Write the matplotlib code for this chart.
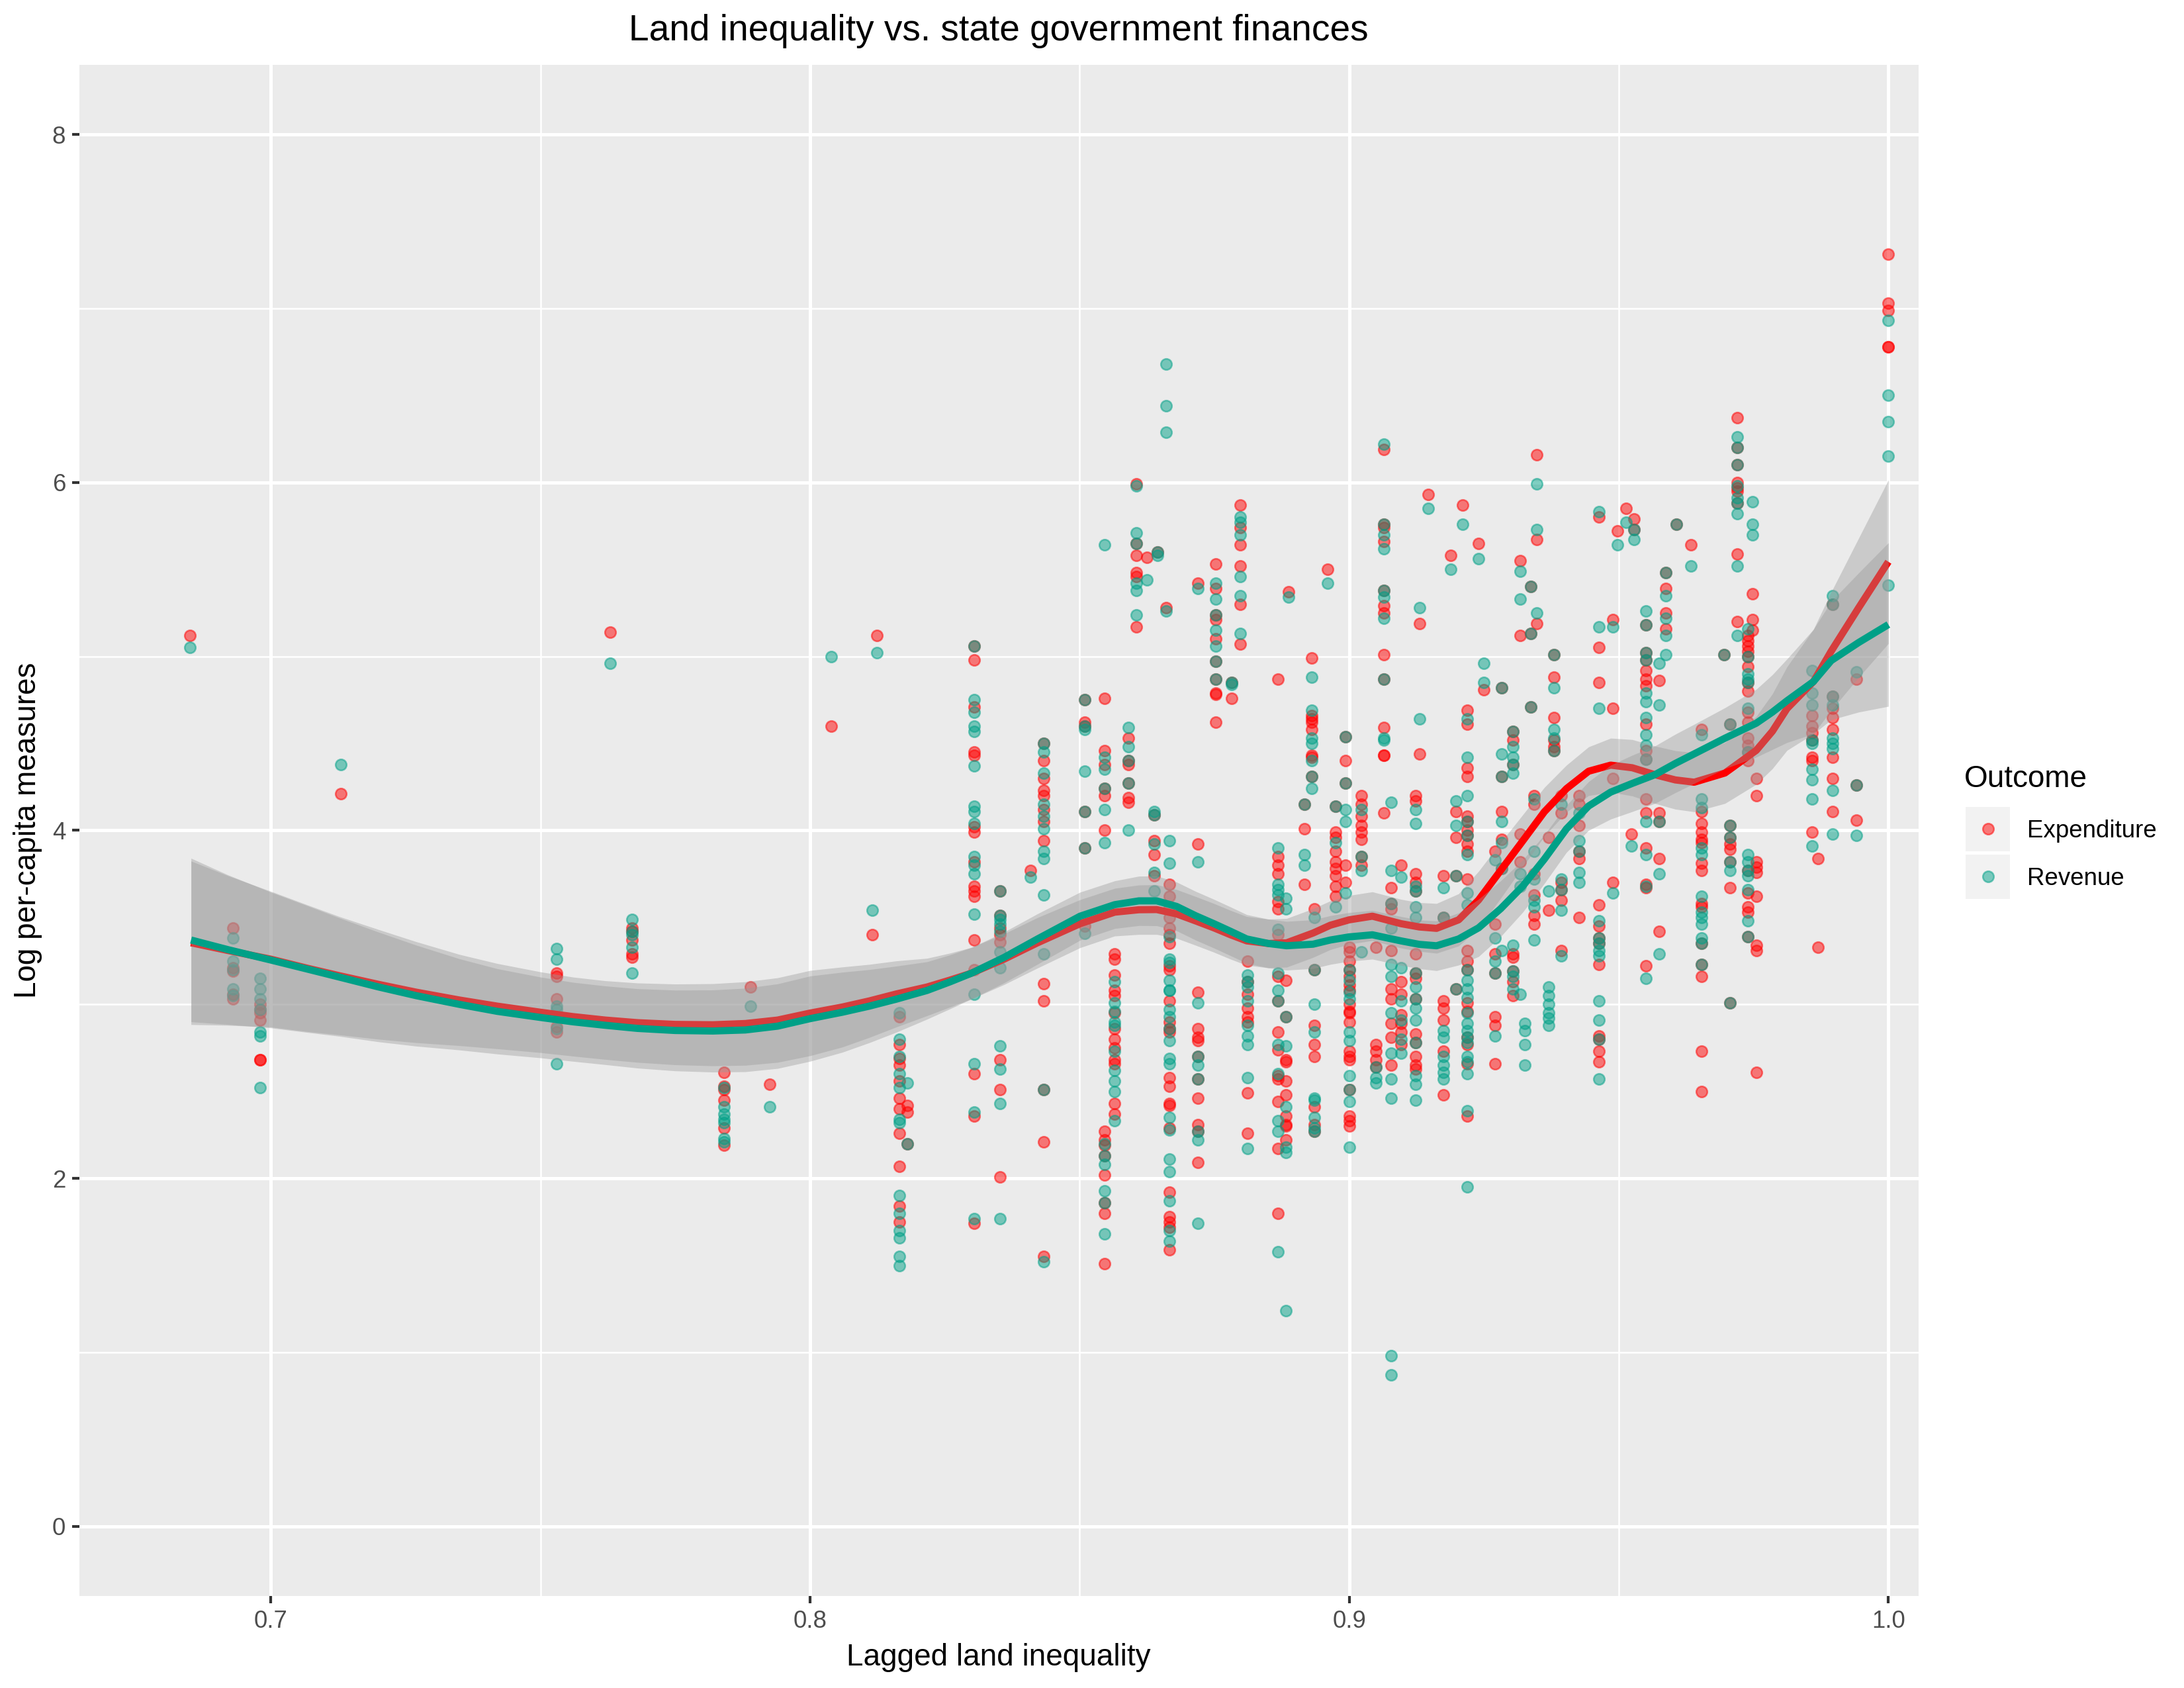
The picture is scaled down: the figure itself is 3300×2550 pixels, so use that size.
import matplotlib
matplotlib.use("Agg")
import matplotlib.pyplot as plt
from matplotlib.patches import Rectangle
from matplotlib.lines import Line2D
from matplotlib.ticker import MultipleLocator, FixedLocator

plt.rcParams['font.family'] = ['Liberation Sans', 'DejaVu Sans']

# lagged land inequality value of each column of points
gini = [0.685, 0.693, 0.698, 0.713, 0.753, 0.763, 0.767, 0.784, 0.789, 0.7925,
        0.804, 0.8115, 0.8124, 0.8166, 0.818, 0.8305, 0.8352, 0.8409, 0.8434, 0.851,
        0.8546, 0.8565, 0.8591, 0.8605, 0.8625, 0.8638, 0.8645, 0.866, 0.8667, 0.872,
        0.8753, 0.8782, 0.8798, 0.8812, 0.8868, 0.8883, 0.8888, 0.8917, 0.893, 0.8935,
        0.896, 0.8975, 0.8993, 0.900, 0.9023, 0.905, 0.9064, 0.9078, 0.9096, 0.9123,
        0.913, 0.9146, 0.9175, 0.9188, 0.9198, 0.921, 0.9219, 0.924, 0.925, 0.927,
        0.9283, 0.9304, 0.9317, 0.9326, 0.9337, 0.9343, 0.9348, 0.937, 0.938, 0.9393,
        0.9426, 0.9463, 0.9489, 0.9497, 0.9513, 0.9524, 0.9528, 0.955, 0.9575, 0.9587,
        0.9607, 0.9634, 0.9653, 0.9695, 0.9706, 0.972, 0.974, 0.9748, 0.9755, 0.9859,
        0.987, 0.9897, 0.9941, 1.0]

# log per-capita expenditure, one list per column
expenditure = [
    [5.12], [3.44, 3.21, 3.19, 3.06, 3.03], [3.00, 2.97, 2.95, 2.91, 2.68, 2.68], [4.21],
    [3.18, 3.16, 3.03, 2.87, 2.84], [5.14], [3.44, 3.42, 3.37, 3.29, 3.27],
    [2.61, 2.53, 2.51, 2.45, 2.29, 2.19], [3.10], [2.54],
    [4.60], [3.40], [5.12],
    [2.93, 2.77, 2.69, 2.65, 2.56, 2.46, 2.40, 2.26, 2.07, 1.84, 1.75], [2.42, 2.38, 2.20],
    [5.06, 4.98, 4.71, 4.45, 4.43, 4.02, 3.99, 3.82, 3.68, 3.65, 3.62, 3.37, 3.20, 2.60, 2.36, 1.74],
    [3.65, 3.51, 3.44, 3.40, 3.36, 2.68, 2.51, 2.01], [3.77],
    [4.50, 4.40, 4.30, 4.23, 4.20, 4.12, 4.05, 3.94, 3.12, 3.02, 2.51, 2.21, 1.55],
    [4.75, 4.62, 4.60, 4.11, 3.90, 3.45],
    [4.76, 4.46, 4.38, 4.24, 4.20, 4.00, 2.27, 2.22, 2.19, 2.13, 2.02, 1.86, 1.80, 1.51],
    [3.29, 3.26, 3.17, 3.08, 3.05, 2.95, 2.86, 2.80, 2.75, 2.68, 2.66, 2.43, 2.37],
    [4.53, 4.40, 4.38, 4.27, 4.19, 4.16], [5.99, 5.65, 5.58, 5.48, 5.46, 5.17], [5.57],
    [4.09, 3.94, 3.86, 3.74], [5.60], [5.28],
    [3.69, 3.62, 3.56, 3.50, 3.44, 3.40, 3.35, 3.22, 3.20, 3.02, 2.90, 2.86, 2.84, 2.58,
     2.53, 2.43, 2.42, 2.29, 1.92, 1.78, 1.75, 1.72, 1.59],
    [5.42, 3.92, 3.07, 2.86, 2.81, 2.79, 2.70, 2.57, 2.46, 2.31, 2.27, 2.09],
    [5.53, 5.39, 5.24, 5.21, 5.10, 4.97, 4.87, 4.79, 4.78, 4.62], [4.85, 4.76],
    [5.87, 5.74, 5.64, 5.52, 5.30, 5.07], [3.25, 3.13, 3.06, 2.98, 2.93, 2.90, 2.49, 2.26],
    [4.87, 3.85, 3.80, 3.75, 3.59, 3.55, 3.40, 3.16, 3.02, 2.84, 2.74, 2.59, 2.57, 2.44, 2.17, 1.80],
    [3.14, 2.93, 2.68, 2.67, 2.56, 2.48, 2.36, 2.31, 2.30, 2.22], [5.37], [4.15, 4.01, 3.69],
    [4.99, 4.66, 4.64, 4.62, 4.58, 4.43, 4.42, 4.31], [3.55, 3.20, 2.88, 2.77, 2.70, 2.41, 2.31, 2.27],
    [5.50], [4.14, 3.99, 3.96, 3.88, 3.82, 3.78, 3.74, 3.68, 3.62], [4.54, 4.40, 4.27, 3.80, 3.70],
    [3.33, 3.30, 3.25, 3.20, 3.16, 3.11, 3.08, 3.00, 2.96, 2.95, 2.90, 2.73, 2.70, 2.68, 2.51,
     2.36, 2.33, 2.30],
    [4.20, 4.15, 4.08, 4.03, 3.99, 3.95, 3.85, 3.80], [3.33, 2.77, 2.73, 2.68, 2.64],
    [6.19, 5.76, 5.74, 5.66, 5.38, 5.29, 5.25, 5.01, 4.87, 4.59, 4.43, 4.43, 4.10],
    [3.67, 3.58, 3.55, 3.31, 3.09, 3.03, 2.89, 2.81, 2.65], [3.80, 3.13, 3.06, 2.94, 2.89, 2.84, 2.77],
    [4.20, 4.17, 3.75, 3.70, 3.65, 3.29, 3.18, 3.15, 3.03, 2.83, 2.78, 2.70, 2.65, 2.63],
    [5.19, 4.44], [5.93], [3.74, 3.50, 3.02, 2.98, 2.91, 2.73, 2.48], [5.58], [4.11, 3.96, 3.74, 3.09],
    [5.87],
    [4.69, 4.61, 4.36, 4.31, 4.08, 4.05, 4.00, 3.97, 3.92, 3.88, 3.72, 3.31, 3.25, 3.20, 3.01,
     2.96, 2.81, 2.77, 2.66, 2.36],
    [5.65], [4.81], [3.88, 3.46, 3.29, 3.18, 2.93, 2.88, 2.66],
    [4.82, 4.31, 4.11, 3.95, 3.78], [4.57, 4.52, 4.38, 3.29, 3.27, 3.19, 3.13, 3.05],
    [5.55, 5.12, 3.98, 3.82], [], [5.40, 5.13, 4.71], [4.20, 4.15, 3.75, 3.63, 3.51, 3.46],
    [6.16, 5.67, 5.19], [3.96, 3.54], [5.01, 4.88, 4.65, 4.52, 4.48, 4.46],
    [4.20, 4.10, 3.70, 3.66, 3.60, 3.31], [4.20, 4.15, 4.03, 3.88, 3.84, 3.50],
    [5.80, 5.05, 4.85, 3.57, 3.45, 3.38, 3.35, 3.23, 2.82, 2.80, 2.73, 2.67],
    [5.21, 4.70, 4.30, 3.70], [5.72], [5.85], [3.98], [5.79, 5.73],
    [5.18, 5.02, 4.98, 4.92, 4.87, 4.83, 4.61, 4.46, 4.41, 4.18, 4.10, 3.90, 3.69, 3.67, 3.22],
    [4.86, 4.10, 4.05, 3.84, 3.42], [5.48, 5.39, 5.25, 5.16], [5.76], [5.64],
    [4.58, 4.11, 4.04, 3.99, 3.95, 3.93, 3.81, 3.77, 3.58, 3.56, 3.35, 3.23, 3.16, 2.73, 2.50],
    [5.01], [4.61, 4.03, 3.96, 3.92, 3.89, 3.82, 3.67, 3.01],
    [6.37, 6.20, 6.10, 6.00, 5.97, 5.95, 5.88, 5.59, 5.20],
    [5.12, 5.09, 5.06, 5.03, 5.00, 4.94, 4.85, 4.80, 4.68, 4.62, 4.53, 4.49, 4.45, 4.40, 3.77,
     3.64, 3.56, 3.53, 3.39],
    [5.36, 5.21, 5.15], [4.30, 4.20, 3.82, 3.79, 3.76, 3.62, 3.34, 3.31, 2.61],
    [4.66, 4.60, 4.56, 4.52, 4.42, 4.40, 3.99], [3.84, 3.33],
    [5.30, 4.77, 4.70, 4.65, 4.58, 4.42, 4.30, 4.11], [4.87, 4.26, 4.06],
    [7.31, 7.03, 6.99, 6.78, 6.78],
]

# log per-capita revenue, one list per column
revenue = [
    [5.05], [3.38, 3.25, 3.20, 3.09, 3.05], [3.15, 3.09, 3.03, 2.97, 2.84, 2.82, 2.52], [4.38],
    [3.32, 3.26, 2.99, 2.97, 2.86, 2.66], [4.96], [3.49, 3.42, 3.40, 3.33, 3.18],
    [2.52, 2.41, 2.37, 2.34, 2.32, 2.23, 2.21], [2.99], [2.41],
    [5.00], [3.54], [5.02],
    [2.95, 2.80, 2.70, 2.60, 2.52, 2.34, 2.32, 1.90, 1.80, 1.70, 1.66, 1.55, 1.50], [2.55, 2.20],
    [5.06, 4.75, 4.68, 4.60, 4.57, 4.37, 4.14, 4.11, 4.04, 3.85, 3.80, 3.75, 3.52, 3.06, 2.66, 2.38, 1.77],
    [3.65, 3.51, 3.49, 3.46, 3.42, 3.30, 3.21, 2.76, 2.63, 2.43, 1.77], [3.73],
    [4.50, 4.45, 4.33, 4.15, 4.08, 4.01, 3.88, 3.84, 3.63, 3.29, 2.51, 1.52],
    [4.75, 4.60, 4.58, 4.34, 4.11, 3.90, 3.41],
    [5.64, 4.42, 4.35, 4.24, 4.12, 3.93, 2.20, 2.13, 2.08, 1.93, 1.86, 1.68],
    [3.13, 3.01, 2.96, 2.90, 2.88, 2.73, 2.62, 2.56, 2.50, 2.33],
    [4.59, 4.48, 4.40, 4.27, 4.00], [5.98, 5.71, 5.65, 5.42, 5.38, 5.24], [5.44],
    [4.11, 4.09, 3.92, 3.76, 3.65], [5.60, 5.58], [6.68, 6.44, 6.29, 5.26],
    [3.94, 3.81, 3.39, 3.26, 3.24, 3.14, 3.08, 3.08, 2.97, 2.93, 2.86, 2.79, 2.69, 2.66, 2.35,
     2.28, 2.11, 2.04, 1.87, 1.70, 1.64],
    [5.39, 3.82, 3.01, 2.70, 2.65, 2.57, 2.27, 2.22, 1.74],
    [5.42, 5.33, 5.24, 5.15, 5.06, 4.97, 4.87], [4.85, 4.84],
    [5.80, 5.77, 5.70, 5.46, 5.35, 5.13], [3.17, 3.13, 3.10, 3.02, 2.88, 2.82, 2.77, 2.58, 2.17],
    [3.90, 3.69, 3.66, 3.63, 3.43, 3.18, 3.08, 3.02, 2.77, 2.60, 2.33, 2.27, 1.58],
    [3.61, 3.55, 2.93, 2.76, 2.41, 2.18, 2.15, 1.24], [5.34], [4.15, 3.86, 3.80],
    [4.88, 4.69, 4.53, 4.50, 4.40, 4.31, 4.24], [3.50, 3.20, 3.00, 2.84, 2.46, 2.45, 2.35, 2.29, 2.27],
    [5.42], [4.14, 3.93, 3.56], [4.54, 4.27, 4.12, 4.05, 3.64],
    [3.20, 3.14, 3.07, 3.03, 2.84, 2.79, 2.59, 2.51, 2.44, 2.18],
    [4.12, 3.85, 3.77, 3.30], [2.64, 2.58, 2.55],
    [6.22, 5.76, 5.70, 5.62, 5.38, 5.34, 5.22, 4.87, 4.53, 4.52],
    [4.16, 3.77, 3.58, 3.44, 3.23, 3.16, 2.95, 2.72, 2.57, 2.46, 0.98, 0.87],
    [3.73, 3.21, 3.02, 2.91, 2.80, 2.72],
    [4.12, 4.04, 3.68, 3.65, 3.56, 3.50, 3.18, 3.10, 3.03, 2.98, 2.91, 2.78, 2.59, 2.54, 2.45],
    [5.28, 4.64], [5.85], [3.67, 3.50, 2.85, 2.81, 2.70, 2.65, 2.61, 2.57], [5.50],
    [4.17, 4.03, 3.74, 3.09], [5.76],
    [4.64, 4.42, 4.20, 4.05, 3.97, 3.86, 3.64, 3.57, 3.20, 3.14, 3.09, 3.04, 2.95, 2.89, 2.85,
     2.81, 2.78, 2.70, 2.67, 2.60, 2.39, 1.95],
    [5.56], [4.96, 4.85], [3.83, 3.38, 3.25, 3.18, 2.82],
    [4.82, 4.44, 4.31, 4.05, 3.93, 3.78, 3.31], [4.57, 4.48, 4.42, 4.38, 4.33, 3.34, 3.19, 3.16, 3.09],
    [5.49, 5.33, 3.75, 3.68, 3.06], [2.89, 2.85, 2.77, 2.65], [5.40, 5.13, 4.71],
    [4.18, 3.88, 3.72, 3.60, 3.56, 3.37], [5.99, 5.73, 5.25],
    [3.65, 3.10, 3.05, 3.00, 2.95, 2.92, 2.88], [5.01, 4.82, 4.58, 4.53, 4.46],
    [4.15, 3.72, 3.66, 3.54, 3.28], [4.10, 3.94, 3.88, 3.76, 3.70],
    [5.83, 5.17, 4.70, 3.48, 3.38, 3.35, 3.31, 3.28, 3.02, 2.91, 2.80, 2.57],
    [5.17, 3.64], [5.64], [5.77], [3.91], [5.73, 5.67],
    [5.26, 5.18, 5.02, 4.98, 4.79, 4.74, 4.65, 4.55, 4.49, 4.41, 4.05, 3.86, 3.68, 3.15],
    [4.96, 4.72, 4.05, 3.75, 3.29], [5.48, 5.35, 5.22, 5.12, 5.01], [5.76], [5.52],
    [4.55, 4.18, 4.13, 3.90, 3.86, 3.62, 3.53, 3.50, 3.46, 3.38, 3.35, 3.23],
    [5.01], [4.61, 4.03, 3.96, 3.82, 3.77, 3.01],
    [6.26, 6.20, 6.10, 5.98, 5.91, 5.88, 5.82, 5.52, 5.12],
    [5.16, 5.00, 4.90, 4.87, 4.85, 4.70, 4.45, 3.86, 3.82, 3.77, 3.74, 3.66, 3.48, 3.39],
    [5.89, 5.76, 5.70], [],
    [4.92, 4.79, 4.72, 4.52, 4.50, 4.35, 4.29, 4.18, 3.91], [],
    [5.35, 5.30, 4.77, 4.72, 4.53, 4.50, 4.47, 4.23, 3.98], [4.91, 4.26, 3.97],
    [6.93, 6.50, 6.35, 6.15, 5.41],
]

# loess fits and confidence half-widths
fit_x = [0.6852, 0.692, 0.700, 0.7065, 0.7127, 0.720, 0.727, 0.735, 0.742, 0.750,
         0.756, 0.762, 0.768, 0.775, 0.782, 0.788, 0.794, 0.800, 0.806, 0.811,
         0.816, 0.8217, 0.826, 0.830, 0.836, 0.8422, 0.8501, 0.8565, 0.861, 0.8643,
         0.868, 0.8715, 0.8749, 0.8780, 0.881, 0.8850, 0.8884, 0.8933, 0.8965, 0.900,
         0.9043, 0.9096, 0.9130, 0.9162, 0.9203, 0.924, 0.9281, 0.9322, 0.9362, 0.9403,
         0.9444, 0.9485, 0.9525, 0.9567, 0.9605, 0.964, 0.9697, 0.9755, 0.9785, 0.9812,
         0.9861, 0.9894, 0.9945, 1.0]
fit_exp = [3.354, 3.31, 3.26, 3.21, 3.165, 3.115, 3.07, 3.025, 2.99, 2.955,
           2.93, 2.91, 2.895, 2.885, 2.883, 2.89, 2.91, 2.95, 2.985, 3.02,
           3.06, 3.10, 3.14, 3.18, 3.26, 3.354, 3.464, 3.53, 3.544, 3.545,
           3.52, 3.48, 3.44, 3.40, 3.365, 3.35, 3.354, 3.41, 3.455, 3.486,
           3.507, 3.464, 3.445, 3.437, 3.486, 3.60, 3.77, 3.94, 4.107, 4.24,
           4.34, 4.375, 4.36, 4.32, 4.29, 4.277, 4.33, 4.46, 4.57, 4.70,
           4.855, 5.03, 5.28, 5.544]
fit_rev = [3.37, 3.315, 3.255, 3.205, 3.157, 3.10, 3.05, 3.00, 2.96, 2.925,
           2.90, 2.88, 2.862, 2.85, 2.847, 2.853, 2.875, 2.918, 2.955, 2.99,
           3.03, 3.08, 3.13, 3.18, 3.27, 3.376, 3.507, 3.573, 3.595, 3.595,
           3.563, 3.51, 3.464, 3.42, 3.376, 3.35, 3.337, 3.346, 3.37, 3.388,
           3.40, 3.365, 3.345, 3.337, 3.376, 3.44, 3.55, 3.68, 3.835, 4.009,
           4.14, 4.22, 4.27, 4.32, 4.385, 4.44, 4.53, 4.616, 4.68, 4.745,
           4.855, 4.976, 5.08, 5.183]
ci_half = [0.47, 0.43, 0.39, 0.365, 0.34, 0.315, 0.29, 0.262, 0.245, 0.232,
           0.227, 0.226, 0.228, 0.232, 0.236, 0.24, 0.243, 0.245, 0.23, 0.21,
           0.19, 0.165, 0.155, 0.148, 0.146, 0.145, 0.138, 0.137, 0.142, 0.143,
           0.14, 0.14, 0.14, 0.14, 0.14, 0.14, 0.14, 0.14, 0.14, 0.14,
           0.14, 0.14, 0.14, 0.143, 0.15, 0.165, 0.16, 0.15, 0.14, 0.135,
           0.14, 0.155, 0.162, 0.165, 0.168, 0.17, 0.175, 0.195, 0.215, 0.24,
           0.3, 0.34, 0.40, 0.47]

RED = '#FF0000'
TEAL = '#00A087'


def flatten(cols):
    xs, ys = [], []
    for g, vals in zip(gini, cols):
        xs += [g] * len(vals)
        ys += vals
    return xs, ys


fig = plt.figure(figsize=(11, 8.5), dpi=300)
ax = fig.add_axes([0.03636, 0.05451, 0.8421, 0.9071])
ax.set_facecolor('#EBEBEB')
for s in ax.spines.values():
    s.set_visible(False)

ex, ey = flatten(expenditure)
rx, ry = flatten(revenue)
ax.scatter(ex, ey, s=16, color=RED, alpha=0.5, edgecolors=RED, linewidths=0.6, zorder=2)
ax.scatter(rx, ry, s=16, color=TEAL, alpha=0.5, edgecolors=TEAL, linewidths=0.6, zorder=2)

# smooth layers: ribbon then line per group, like geom_smooth
for fit, col, z in [(fit_exp, RED, 3), (fit_rev, TEAL, 5)]:
    lo = [f - h for f, h in zip(fit, ci_half)]
    hi = [f + h for f, h in zip(fit, ci_half)]
    ax.fill_between(fit_x, lo, hi, color='#999999', alpha=0.4, linewidth=0, zorder=z)
    ax.plot(fit_x, fit, color=col, linewidth=2.6, solid_capstyle='butt',
            solid_joinstyle='round', zorder=z + 1)

ax.set_xlim(0.6645, 1.0056)
ax.set_ylim(-0.4, 8.4)
ax.xaxis.set_major_locator(FixedLocator([0.7, 0.8, 0.9, 1.0]))
ax.xaxis.set_minor_locator(FixedLocator([0.75, 0.85, 0.95]))
ax.set_xticklabels(['0.7', '0.8', '0.9', '1.0'])
ax.yaxis.set_major_locator(MultipleLocator(2))
ax.yaxis.set_minor_locator(FixedLocator([1, 3, 5, 7]))
ax.set_axisbelow(True)
ax.grid(which='major', color='white', linewidth=1.2)
ax.grid(which='minor', color='white', linewidth=0.6)
ax.tick_params(which='major', length=2.75, width=1.0, color='#333333',
               labelsize=8.8, labelcolor='#4D4D4D', pad=2.2)
ax.tick_params(which='minor', length=0)

fig.text(0.4573, 0.976, 'Land inequality vs. state government finances',
         ha='center', va='baseline', fontsize=13.2)
fig.text(0.4573, 0.0133, 'Lagged land inequality', ha='center', va='baseline', fontsize=11)
fig.text(0.0127, 0.508, 'Log per-capita measures', rotation=90,
         ha='center', va='center', fontsize=11)

# legend on the right
fig.text(0.8994, 0.5337, 'Outcome', ha='left', va='baseline', fontsize=11)
for yc, col, lab in [(1252, RED, 'Expenditure'), (1324, TEAL, 'Revenue')]:
    fig.add_artist(Rectangle((2970 / 3300, 1 - (yc + 34) / 2550), 67 / 3300, 67 / 2550,
                             transform=fig.transFigure, facecolor='#F2F2F2', edgecolor='none'))
    fig.add_artist(Line2D([3004 / 3300], [1 - yc / 2550], transform=fig.transFigure,
                          marker='o', markersize=4.0, color=col, alpha=0.5,
                          markeredgecolor=col, markeredgewidth=0.6, linestyle='none'))
    fig.text(3063 / 3300, 1 - (yc + 13) / 2550, lab, ha='left', va='baseline', fontsize=8.8)

fig.savefig('out.png', dpi=300)
